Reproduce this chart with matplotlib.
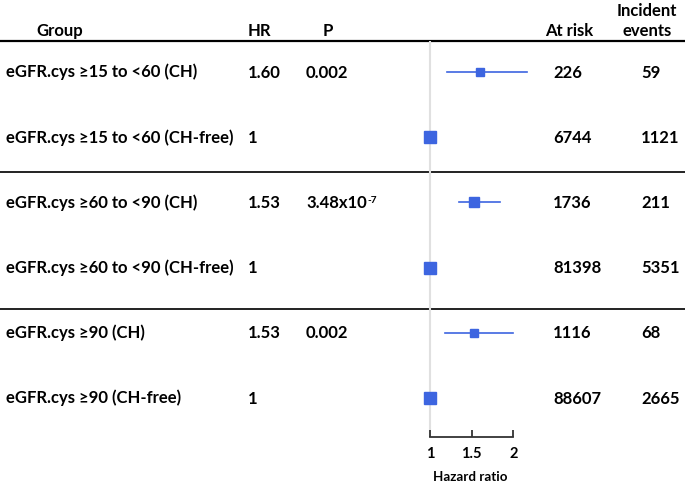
import matplotlib
matplotlib.use('Agg')
import matplotlib.pyplot as plt

groups = ['eGFR.cys \u226515 to <60 (CH)', 'eGFR.cys \u226515 to <60 (CH-free)',
          'eGFR.cys \u226560 to <90 (CH)', 'eGFR.cys \u226560 to <90 (CH-free)',
          'eGFR.cys \u226590 (CH)', 'eGFR.cys \u226590 (CH-free)']
hr = [1.60, 1, 1.53, 1, 1.53, 1]
hr_txt = ['1.60', '1', '1.53', '1', '1.53', '1']
p_txt = ['0.002', '', '3.48x10^-7', '', '0.002', '']
ci_lo = [1.21, None, 1.35, None, 1.18, None]
ci_hi = [2.17, None, 1.84, None, 2.00, None]
at_risk = [226, 6744, 1736, 81398, 1116, 88607]
events = [59, 1121, 211, 5351, 68, 2665]

# marker sizes (pt)
msize = [5.2, 8.6, 7.8, 8.6, 5.4, 8.6]

plt.rcParams['font.family'] = ['Lato', 'DejaVu Sans']
plt.rcParams['font.weight'] = 'bold'
fs = 12
blue = '#3d65e0'

W, H = 685, 482
fig = plt.figure(figsize=(W / 100, H / 100), dpi=100)

# table layer in pixel coords
ax0 = fig.add_axes([0, 0, 1, 1])
ax0.set_xlim(0, W)
ax0.set_ylim(H, 0)
ax0.axis('off')

row0, step = 72, 65.2
rows = [row0 + step * i for i in range(len(groups))]

# header
ax0.text(60, 36, 'Group', ha='center', va='baseline', fontsize=fs, fontweight='bold')
ax0.text(259, 36, 'HR', ha='center', va='baseline', fontsize=fs, fontweight='bold')
ax0.text(328, 36, 'P', ha='center', va='baseline', fontsize=fs, fontweight='bold')
ax0.text(569, 36, 'At risk', ha='center', va='baseline', fontsize=fs, fontweight='bold')
ax0.text(647, 15.5, 'Incident', ha='center', va='baseline', fontsize=fs, fontweight='bold')
ax0.text(647, 36, 'events', ha='center', va='baseline', fontsize=fs, fontweight='bold')

ax0.plot([0, W], [40.7, 40.7], color='black', lw=1.6, solid_capstyle='butt')
for ys in [171.7, 309]:
    ax0.plot([0, W], [ys, ys], color='#222222', lw=1.4, solid_capstyle='butt')

for i, y in enumerate(rows):
    yb = y + 5.5
    ax0.text(6, yb, groups[i], ha='left', va='baseline', fontsize=fs, fontweight='bold')
    ax0.text(248, yb, hr_txt[i], ha='left', va='baseline', fontsize=fs, fontweight='bold')
    if p_txt[i]:
        parts = p_txt[i].split('^')
        t = ax0.text(306, yb, parts[0], ha='left', va='baseline', fontsize=fs, fontweight='bold')
        if len(parts) > 1:
            # superscript exponent right after the base text
            ax0.annotate(parts[1], xy=(1, yb - 4.5), xycoords=(t, 'data'),
                         xytext=(0.6, 0), textcoords='offset points',
                         ha='left', va='baseline', fontsize=7.2, fontweight='bold')
    ax0.text(553, yb, str(at_risk[i]), ha='left', va='baseline', fontsize=fs, fontweight='bold')
    ax0.text(641, yb, str(events[i]), ha='left', va='baseline', fontsize=fs, fontweight='bold')

# forest plot
px_per_unit = 83.3
top_px, bot_px = 40.7, 437
ax = fig.add_axes([400 / W, (H - bot_px) / H, 140 / W, (bot_px - top_px) / H])
ax.patch.set_alpha(0)
ax.set_xlim(1 - 30 / px_per_unit, 1 + 110 / px_per_unit)
ax.set_ylim((bot_px - row0) / step, (top_px - row0) / step)
ax.axvline(1, color='#e0e0e0', lw=1.5, zorder=0)

for i in range(len(groups)):
    if ci_lo[i] is not None:
        ax.plot([ci_lo[i], ci_hi[i]], [i, i], color=blue, lw=1.2, zorder=2)
    ax.plot(hr[i], i, marker='s', ms=msize[i], color=blue, mec=blue, zorder=3)

for s in ['top', 'right', 'left']:
    ax.spines[s].set_visible(False)
ax.spines['bottom'].set_bounds(1, 2)
ax.spines['bottom'].set_color('#333333')
ax.spines['bottom'].set_linewidth(1.3)
ax.set_yticks([])
ax.set_xticks([1, 1.5, 2])
ax.set_xticklabels(['1', '1.5', '2'], fontsize=10.5, fontweight='bold')
ax.tick_params(axis='x', direction='in', length=5, width=1.3, color='#333333', pad=7.5)
ax.set_xlabel('Hazard ratio', fontsize=9.6, fontweight='bold', labelpad=7)

fig.savefig('out.png', dpi=100)
